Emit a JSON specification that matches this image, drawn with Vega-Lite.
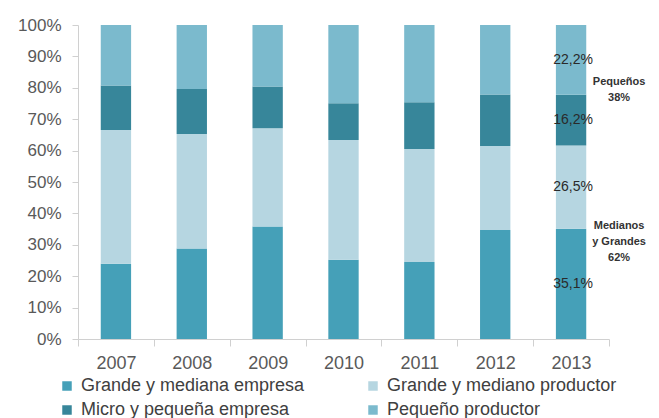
{
  "$schema": "https://vega.github.io/schema/vega-lite/v6.json",
  "width": 531,
  "height": 314,
  "autosize": {"type": "none"},
  "padding": {"left": 78, "top": 25, "right": 50, "bottom": 79},
  "background": "white",
  "config": {
    "view": {"stroke": null},
    "font": "Liberation Sans",
    "axis": {"labelFont": "Liberation Sans", "labelColor": "#595959", "labelFontSize": 17, "domainColor": "#d0d0d0", "tickColor": "#d0d0d0", "grid": false, "title": null, "labelOverlap": false},
    "axisX": {"labelAngle": 0, "tickBand": "extent", "tickSize": 7, "labelPadding": 8, "labelFontSize": 18},
    "axisY": {"tickSize": 6, "labelPadding": 11}
  },
  "datasets": {
    "main": [
      {"year": "2007", "serie": "Grande y mediana empresa", "value": 24.0},
      {"year": "2007", "serie": "Grande y mediano productor", "value": 42.6},
      {"year": "2007", "serie": "Micro y pequeña empresa", "value": 14.1},
      {"year": "2007", "serie": "Pequeño productor", "value": 19.3},
      {"year": "2008", "serie": "Grande y mediana empresa", "value": 28.8},
      {"year": "2008", "serie": "Grande y mediano productor", "value": 36.5},
      {"year": "2008", "serie": "Micro y pequeña empresa", "value": 14.3},
      {"year": "2008", "serie": "Pequeño productor", "value": 20.4},
      {"year": "2009", "serie": "Grande y mediana empresa", "value": 35.8},
      {"year": "2009", "serie": "Grande y mediano productor", "value": 31.3},
      {"year": "2009", "serie": "Micro y pequeña empresa", "value": 13.3},
      {"year": "2009", "serie": "Pequeño productor", "value": 19.6},
      {"year": "2010", "serie": "Grande y mediana empresa", "value": 25.2},
      {"year": "2010", "serie": "Grande y mediano productor", "value": 38.2},
      {"year": "2010", "serie": "Micro y pequeña empresa", "value": 11.7},
      {"year": "2010", "serie": "Pequeño productor", "value": 24.9},
      {"year": "2011", "serie": "Grande y mediana empresa", "value": 24.5},
      {"year": "2011", "serie": "Grande y mediano productor", "value": 36.0},
      {"year": "2011", "serie": "Micro y pequeña empresa", "value": 14.9},
      {"year": "2011", "serie": "Pequeño productor", "value": 24.6},
      {"year": "2012", "serie": "Grande y mediana empresa", "value": 34.7},
      {"year": "2012", "serie": "Grande y mediano productor", "value": 26.8},
      {"year": "2012", "serie": "Micro y pequeña empresa", "value": 16.4},
      {"year": "2012", "serie": "Pequeño productor", "value": 22.1},
      {"year": "2013", "serie": "Grande y mediana empresa", "value": 35.1},
      {"year": "2013", "serie": "Grande y mediano productor", "value": 26.5},
      {"year": "2013", "serie": "Micro y pequeña empresa", "value": 16.2},
      {"year": "2013", "serie": "Pequeño productor", "value": 22.2}
    ],
    "notes": [
      {"year": "2013", "value": 81.7, "texto": ["Pequeños", "38%"]},
      {"year": "2013", "value": 36, "texto": ["Medianos", "y Grandes", "62%"]}
    ]
  },
  "encoding": {
    "x": {"field": "year", "type": "nominal", "scale": {"paddingInner": 0, "paddingOuter": 0}},
    "y": {"field": "value", "type": "quantitative", "scale": {"domain": [0, 100]},
          "axis": {"values": [0,10,20,30,40,50,60,70,80,90,100], "labelExpr": "datum.value + '%'", "labelOverlap": false}}
  },
  "layer": [
    {
      "data": {"name": "main"},
      "mark": {"type": "bar", "width": {"band": 0.4}},
      "encoding": {
        "y": {"field": "value", "type": "quantitative", "stack": "zero"},
        "color": {"field": "serie", "type": "nominal",
                  "scale": {"domain": ["Grande y mediana empresa", "Grande y mediano productor", "Micro y pequeña empresa", "Pequeño productor"],
                            "range": ["#45a0b8", "#b6d6e1", "#37869a", "#7bbacd"]},
                  "legend": {"orient": "none", "direction": "horizontal", "legendX": -20, "legendY": 352, "columns": 2, "title": null, "symbolType": "square", "symbolSize": 90, "symbolStrokeWidth": 0,
                             "labelFontSize": 18, "labelColor": "#404040", "labelFont": "Liberation Sans", "labelOffset": 5, "columnPadding": 59, "rowPadding": 6, "labelLimit": 300}},
        "order": {"field": "serie", "sort": "ascending"}
      }
    },
    {
      "data": {"name": "main"},
      "transform": [
        {"filter": "datum.year == '2013'"},
        {"stack": "value", "groupby": ["year"], "sort": [{"field": "serie", "order": "ascending"}], "as": ["v0", "v1"]},
        {"calculate": "replace(format(datum.value, '.1f'), '.', ',') + '%'", "as": "etiqueta"},
        {"calculate": "(datum.v0 + datum.v1) / 2", "as": "value"}
      ],
      "mark": {"type": "text", "fontSize": 14, "color": "#2a2a2a", "font": "Liberation Sans", "dx": 2},
      "encoding": {
        "text": {"field": "etiqueta"}
      }
    },
    {
      "data": {"name": "notes"},
      "mark": {"type": "text", "fontSize": 11, "fontWeight": "bold", "color": "#333333", "font": "Liberation Sans", "dx": 48, "lineHeight": 16, "baseline": "middle"},
      "encoding": {
        "text": {"field": "texto"}
      }
    }
  ]
}
